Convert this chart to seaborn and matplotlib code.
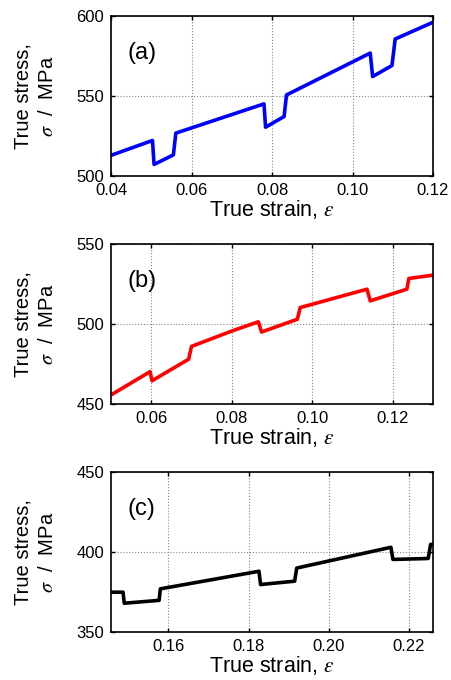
import matplotlib.pyplot as plt
import seaborn as sns
import pandas as pd

# panel (a) - blue
strain_a = [0.0400, 0.0503, 0.0507, 0.0555, 0.0561, 0.0780, 0.0784, 0.0830, 0.0836,
            0.1044, 0.1050, 0.1098, 0.1106, 0.1200]
stress_a = [513.0, 522.3, 507.3, 513.3, 526.9, 545.2, 530.6, 537.3, 550.8,
            577.0, 562.3, 569.2, 585.8, 596.3]

# panel (b) - red
strain_b = [0.0500, 0.0597, 0.0602, 0.0693, 0.0700, 0.0800, 0.0866, 0.0874, 0.0963,
            0.0970, 0.1136, 0.1144, 0.1235, 0.1240, 0.1300]
stress_b = [455.6, 470.2, 464.5, 478.0, 486.0, 495.6, 501.4, 495.0, 503.0,
            510.3, 521.8, 514.5, 521.8, 528.5, 530.6]

# panel (c) - black
strain_c = [0.1457, 0.1487, 0.1490, 0.1577, 0.1580, 0.1826, 0.1830, 0.1915, 0.1920,
            0.2155, 0.2160, 0.2248, 0.2254, 0.2260]
stress_c = [374.9, 374.9, 368.0, 369.8, 377.0, 388.0, 379.7, 381.8, 390.0,
            403.0, 395.4, 396.0, 404.8, 404.8]

panels = [
    ("(a)", strain_a, stress_a, "#0000ff", (0.04, 0.12), [0.04, 0.06, 0.08, 0.10, 0.12], (500, 600), [500, 550, 600]),
    ("(b)", strain_b, stress_b, "#ff0000", (0.05, 0.13), [0.06, 0.08, 0.10, 0.12], (450, 550), [450, 500, 550]),
    ("(c)", strain_c, stress_c, "#000000", (0.1457, 0.226), [0.16, 0.18, 0.20, 0.22], (350, 450), [350, 400, 450]),
]

sns.set_style("ticks")
plt.rcParams['font.family'] = ['Liberation Sans', 'DejaVu Sans']
plt.rcParams['mathtext.fontset'] = 'stix'
plt.rcParams['text.color'] = 'black'
plt.rcParams['axes.labelcolor'] = 'black'
plt.rcParams['xtick.color'] = 'black'
plt.rcParams['ytick.color'] = 'black'

fig = plt.figure(figsize=(4.52, 6.8), dpi=100)
bottoms = [0.741, 0.406, 0.0706]

for (tag, xs, ys, col, xlim, xticks, ylim, yticks), b in zip(panels, bottoms):
    ax = fig.add_axes([0.2456, b, 0.7124, 0.235])
    df = pd.DataFrame({"strain": xs, "stress": ys})
    sns.lineplot(x="strain", y="stress", data=df, color=col, linewidth=2.6,
                 sort=False, estimator=None, ax=ax)
    ax.set_xlim(*xlim)
    ax.set_ylim(*ylim)
    ax.set_xticks(xticks)
    ax.set_xticklabels(["%.2f" % t for t in xticks])
    ax.set_yticks(yticks)
    ax.grid(True, linestyle=":", color="#888888", linewidth=0.8)
    ax.tick_params(direction="in", length=3, width=1, top=True, right=True, labelsize=12, pad=5)
    for s in ax.spines.values():
        s.set_linewidth(1.2)
        s.set_color("black")
    ax.set_xlabel("True strain, $\\varepsilon$", fontsize=15.5, labelpad=0)
    ax.set_ylabel("True stress,\n$\\sigma$  /  MPa", fontsize=14.5, labelpad=14, linespacing=1.35)
    ax.text(0.05, 0.77, tag, transform=ax.transAxes, fontsize=17, va="center", ha="left")

plt.savefig("out.png", dpi=100)
